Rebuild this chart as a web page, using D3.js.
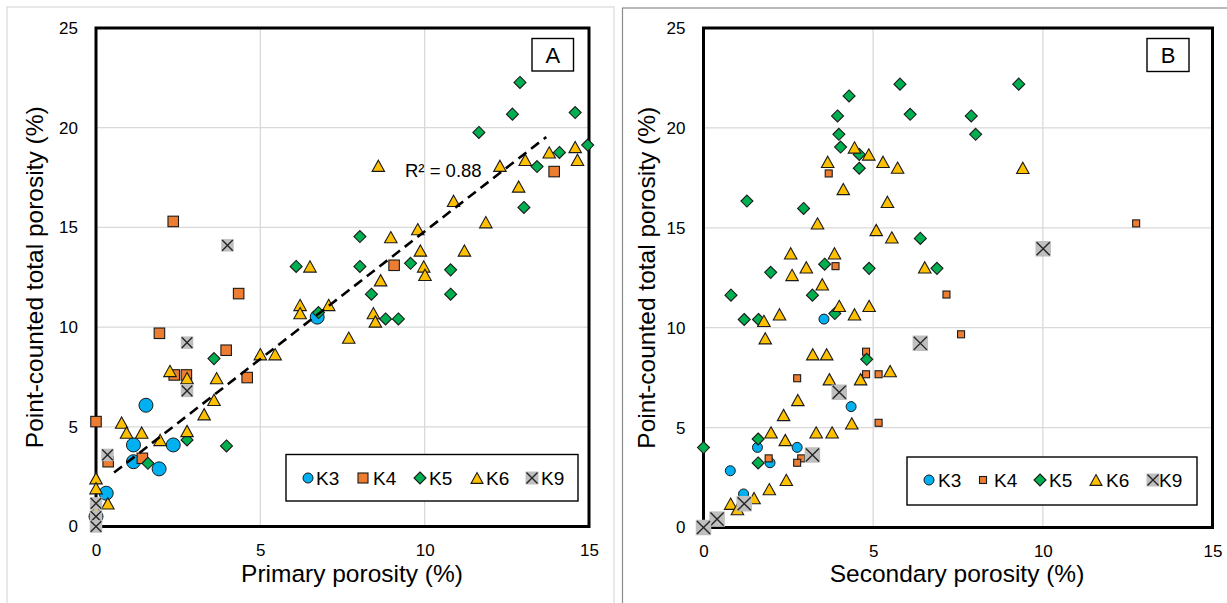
<!DOCTYPE html>
<html>
<head>
<meta charset="utf-8">
<script src="https://cdn.jsdelivr.net/npm/d3@7"></script>
<style>
  body { margin: 0; background: #fff; }
  svg { display: block; }
  text { font-family: "Liberation Sans", Arial, sans-serif; fill: #000; }
</style>
</head>
<body>
<svg width="1227" height="603"></svg>
<script>
// series names and colours
const seriesNames = ["K3", "K4", "K5", "K6", "K9"];
const seriesColors = ["#00B0F0", "#ED7D31", "#00B050", "#FFC000", "#BFBFBF"];
const seriesShapes = ["circle", "square", "diamond", "triangle", "cross"];

const xTicks = [0, 5, 10, 15];
const yTicks = [0, 5, 10, 15, 20, 25];

// Panel A : primary porosity vs point-counted total porosity
const aK3 = [[0, 0.5], [0.31, 1.67], [1.14, 3.25], [1.14, 4.09], [1.52, 6.08], [1.92, 2.89], [2.35, 4.09], [6.73, 10.5]];
const aK4 = [[2.35, 15.3], [13.94, 17.8], [9.07, 13.1], [4.34, 11.68], [1.93, 9.69], [3.96, 8.84], [2.38, 7.6],
  [2.75, 7.6], [4.6, 7.47], [0, 5.26], [0.37, 3.25], [1.41, 3.42]];
const aK5 = [[6.09, 13.04], [8.03, 14.54], [8.03, 13.04], [12.9, 22.27], [12.67, 20.68], [14.58, 20.76], [11.65, 19.76],
  [14.96, 19.13], [14.1, 18.76], [13.42, 18.05], [13.02, 16.0], [9.57, 13.2], [10.79, 12.87], [8.38, 11.65],
  [10.79, 11.65], [8.81, 10.41], [9.2, 10.41], [6.77, 10.73], [3.59, 8.42], [2.77, 4.34], [3.97, 4.04], [1.58, 3.17]];
const aK6 = [[6.51, 13.04], [14.58, 19.03], [13.79, 18.76], [14.65, 18.39], [13.06, 18.39], [12.29, 18.09], [8.59, 18.09],
  [12.86, 17.05], [10.88, 16.33], [11.86, 15.26], [8.97, 14.51], [9.79, 14.91], [9.87, 13.84], [11.21, 13.84],
  [9.97, 13.04], [10.01, 12.62], [8.66, 12.35], [8.44, 10.7], [8.5, 10.28], [7.69, 9.47], [6.21, 11.11], [6.21, 10.7],
  [7.08, 11.11], [5.0, 8.64], [5.45, 8.64], [2.25, 7.8], [2.77, 7.44], [3.67, 7.44], [3.59, 6.35], [3.29, 5.63],
  [0.78, 5.21], [0.93, 4.71], [1.39, 4.71], [1.95, 4.34], [2.77, 4.79], [0, 2.42], [0, 1.92], [0.36, 1.16], [0, 0.8]];
const aK9 = [[4.0, 14.1], [2.77, 9.22], [2.77, 6.8], [0.35, 3.59], [0, 1.16], [0, 0.5], [0, 0]];

// linear trend of panel A
const trendSlope = 1.28;
const trendIntercept = 2.0;
const trendFrom = 0.55, trendTo = 13.7;
const trendLabel = "R² = 0.88";

// Panel B : secondary porosity vs point-counted total porosity
const bK3 = [[3.55, 10.43], [4.35, 6.05], [1.59, 4.01], [2.76, 4.01], [1.96, 3.24], [0.79, 2.84], [1.18, 1.68]];
const bK4 = [[3.69, 17.72], [3.89, 13.08], [12.75, 15.22], [7.16, 11.66], [7.59, 9.67], [4.79, 8.8], [2.76, 7.47],
  [4.79, 7.67], [5.16, 7.67], [5.16, 5.24], [1.92, 3.46], [2.88, 3.46], [2.76, 3.24]];
const bK5 = [[5.79, 22.19], [4.29, 21.6], [3.95, 20.6], [6.09, 20.68], [3.99, 19.68], [4.04, 19.04], [4.59, 18.67],
  [4.59, 17.98], [1.28, 16.34], [2.95, 15.97], [6.39, 14.47], [3.57, 13.18], [4.88, 12.97], [6.88, 12.97],
  [1.98, 12.77], [9.29, 22.19], [7.89, 20.6], [8.02, 19.68], [0.81, 11.63], [3.21, 11.63], [3.87, 10.71],
  [1.2, 10.41], [1.62, 10.41], [4.81, 8.42], [1.61, 4.43], [0, 4.0], [1.61, 3.23]];
const bK6 = [[4.45, 19.02], [4.87, 18.67], [5.29, 18.3], [5.72, 18.01], [3.66, 18.3], [4.12, 16.94], [5.42, 16.3],
  [3.36, 15.22], [5.09, 14.89], [5.55, 14.52], [2.57, 13.72], [3.86, 13.72], [3.03, 13.02], [6.52, 13.02],
  [2.61, 12.64], [9.41, 18.0], [3.5, 12.17], [4.0, 11.09], [4.88, 11.09], [4.45, 10.67], [2.24, 10.67],
  [1.78, 10.34], [1.82, 9.47], [3.22, 8.67], [3.63, 8.67], [3.71, 7.42], [4.63, 7.42], [5.5, 7.83], [2.78, 6.38],
  [2.36, 5.63], [4.37, 5.21], [1.99, 4.76], [3.32, 4.76], [3.79, 4.76], [2.41, 4.38], [2.44, 2.38], [1.94, 1.92],
  [1.49, 1.47], [0.8, 1.19], [1.0, 0.92]];
const bK9 = [[10.01, 13.95], [6.39, 9.22], [4.0, 6.77], [3.21, 3.63], [1.2, 1.19], [0.4, 0.42], [0, 0]];

const yTitle = "Point-counted total porosity (%)";

const panels = [
  {
    frame: [7, 7, 607, 640], frameColor: "#d9d9d9",
    xRange: [96, 589], yRange: [526.5, 28],
    xTitle: "Primary porosity (%)", xTitleX: 352, yTitleX: 43,
    tag: "A", tagBox: [532, 38.5, 41.5, 32.5],
    legendBox: [286, 454.5, 292, 46.5], legendMarkX: [308, 363, 420, 477, 532], legendTextX: [316, 373, 429, 486, 541],
    legendY: 478,
    sizes: [14, 10.5, 12, 12.5, 12.5], legendSizes: [10, 10, 12, 12, 13],
    data: [aK3, aK4, aK5, aK6, aK9], trend: true
  },
  {
    frame: [622.5, 8, 640, 640], frameColor: "#8c8c8c",
    xRange: [703.5, 1212.5], yRange: [527.5, 28],
    xTitle: "Secondary porosity (%)", xTitleX: 957, yTitleX: 655,
    tag: "B", tagBox: [1147, 38.5, 42, 33],
    legendBox: [907, 457, 290, 48], legendMarkX: [929, 983, 1040, 1096, 1153], legendTextX: [938, 994, 1049, 1106, 1159],
    legendY: 480,
    sizes: [10, 7, 12, 12.5, 15.5], legendSizes: [10, 7, 12, 12, 13],
    data: [bK3, bK4, bK5, bK6, bK9], trend: false
  }
];

const svg = d3.select("svg");

function drawMarker(g, shape, color, s) {
  const h = s / 2;
  if (shape === "circle") {
    g.append("circle").attr("r", h).attr("fill", color).attr("stroke", "#1a1a1a").attr("stroke-width", 1);
  } else if (shape === "square") {
    g.append("rect").attr("x", -h).attr("y", -h).attr("width", s).attr("height", s)
      .attr("fill", color).attr("stroke", "#1a1a1a").attr("stroke-width", 1.1);
  } else if (shape === "diamond") {
    g.append("path").attr("d", `M0,${-h}L${h},0L0,${h}L${-h},0Z`)
      .attr("fill", color).attr("stroke", "#1a1a1a").attr("stroke-width", 1.1);
  } else if (shape === "triangle") {
    const th = s * 0.9;
    g.append("path").attr("d", `M0,${-th / 2}L${h},${th / 2}L${-h},${th / 2}Z`)
      .attr("fill", color).attr("stroke", "#1a1a1a").attr("stroke-width", 1.1).attr("stroke-linejoin", "miter");
  } else {
    g.append("rect").attr("x", -h).attr("y", -h).attr("width", s).attr("height", s).attr("fill", color);
    const k = h * 0.85;
    g.append("path").attr("d", `M${-k},${-k}L${k},${k}M${k},${-k}L${-k},${k}`)
      .attr("stroke", "#262626").attr("stroke-width", 1.4);
  }
}

panels.forEach(p => {
  const x = d3.scaleLinear().domain([0, 15]).range(p.xRange);
  const y = d3.scaleLinear().domain([0, 25]).range(p.yRange);

  // chart area frame
  svg.append("rect")
    .attr("x", p.frame[0]).attr("y", p.frame[1]).attr("width", p.frame[2]).attr("height", p.frame[3])
    .attr("fill", "none").attr("stroke", p.frameColor).attr("stroke-width", 1.2);

  // gridlines
  const grid = svg.append("g");
  grid.selectAll("line.v").data(xTicks.slice(1, -1)).enter().append("line")
    .attr("x1", d => x(d)).attr("x2", d => x(d)).attr("y1", y(0)).attr("y2", y(25))
    .attr("stroke", "#d9d9d9").attr("stroke-width", 1.3);
  grid.selectAll("line.h").data(yTicks.slice(1, -1)).enter().append("line")
    .attr("x1", x(0)).attr("x2", x(15)).attr("y1", d => y(d)).attr("y2", d => y(d))
    .attr("stroke", "#d9d9d9").attr("stroke-width", 1.3);

  // axes (labels only)
  const xAxis = svg.append("g").attr("transform", `translate(0,${y(0)})`)
    .call(d3.axisBottom(x).tickValues(xTicks).tickSize(0).tickPadding(17));
  const yAxis = svg.append("g").attr("transform", `translate(${x(0)},0)`)
    .call(d3.axisLeft(y).tickValues(yTicks).tickSize(0).tickPadding(18));
  [xAxis, yAxis].forEach(a => {
    a.select(".domain").remove();
    a.attr("font-family", null).attr("font-size", null);
    a.selectAll("text").style("font-size", "17px").attr("fill", "#000");
  });

  // plot area border
  svg.append("rect")
    .attr("x", x(0)).attr("y", y(25)).attr("width", x(15) - x(0)).attr("height", y(0) - y(25))
    .attr("fill", "none").attr("stroke", "#000").attr("stroke-width", 3);

  // axis titles
  svg.append("text").attr("x", p.xTitleX).attr("y", 582).attr("text-anchor", "middle")
    .style("font-size", "24.5px").text(p.xTitle);
  svg.append("text").attr("transform", `translate(${p.yTitleX},${(y(0) + y(25)) / 2}) rotate(-90)`)
    .attr("text-anchor", "middle").style("font-size", "24.5px").text(yTitle);

  // points
  p.data.forEach((pts, i) => {
    const layer = svg.append("g");
    layer.selectAll("g").data(pts).enter().append("g")
      .attr("transform", d => `translate(${x(d[0])},${y(d[1])})`)
      .each(function () { drawMarker(d3.select(this), seriesShapes[i], seriesColors[i], p.sizes[i]); });
  });

  // trend line
  if (p.trend) {
    svg.append("line")
      .attr("x1", x(trendFrom)).attr("y1", y(trendSlope * trendFrom + trendIntercept))
      .attr("x2", x(trendTo)).attr("y2", y(trendSlope * trendTo + trendIntercept))
      .attr("stroke", "#000").attr("stroke-width", 2.6).attr("stroke-dasharray", "10,6");
    svg.append("text").attr("x", 405).attr("y", 177).style("font-size", "18.5px").text(trendLabel);
  }

  // panel tag
  svg.append("rect").attr("x", p.tagBox[0]).attr("y", p.tagBox[1]).attr("width", p.tagBox[2]).attr("height", p.tagBox[3])
    .attr("fill", "#fff").attr("stroke", "#000").attr("stroke-width", 1.4);
  svg.append("text").attr("x", p.tagBox[0] + p.tagBox[2] / 2).attr("y", p.tagBox[1] + 24.5)
    .attr("text-anchor", "middle").style("font-size", "22px").text(p.tag);

  // legend
  const lg = svg.append("g");
  lg.append("rect").attr("x", p.legendBox[0]).attr("y", p.legendBox[1])
    .attr("width", p.legendBox[2]).attr("height", p.legendBox[3])
    .attr("fill", "#fff").attr("stroke", "#000").attr("stroke-width", 1.4);
  seriesNames.forEach((name, i) => {
    const m = lg.append("g").attr("transform", `translate(${p.legendMarkX[i]},${p.legendY})`);
    drawMarker(m, seriesShapes[i], seriesColors[i], p.legendSizes[i]);
    lg.append("text").attr("x", p.legendTextX[i]).attr("y", p.legendY + 7)
      .style("font-size", "19px").text(name);
  });
});
</script>
</body>
</html>
